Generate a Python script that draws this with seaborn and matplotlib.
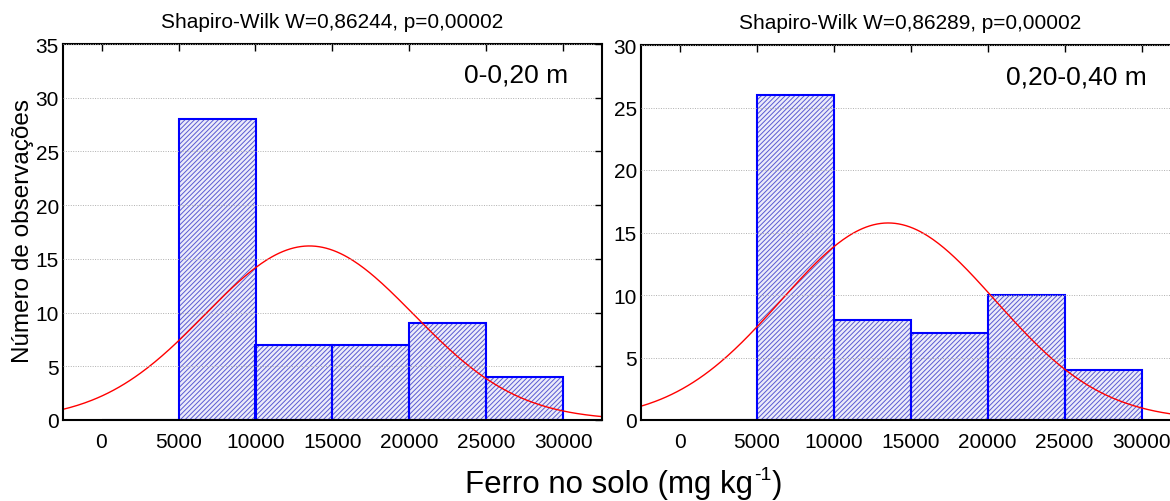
import matplotlib
matplotlib.use("Agg")
import matplotlib.pyplot as plt
from matplotlib import font_manager
import numpy as np
import seaborn as sns

# histogram data (bin edges in mg/kg, counts)
bin_edges = [0, 5000, 10000, 15000, 20000, 25000, 30000]
counts_0_20 = [0, 28, 7, 7, 9, 4]
counts_20_40 = [0, 26, 8, 7, 10, 4]
# fitted normal curves (mean, sd) and the Shapiro-Wilk results
mean_0_20, sd_0_20 = 13500, 6772
mean_20_40, sd_20_40 = 13550, 6960
titles = ["Shapiro-Wilk W=0,86244, p=0,00002", "Shapiro-Wilk W=0,86289, p=0,00002"]
depths = ["0-0,20 m", "0,20-0,40 m"]
ytops = [35, 30]

sns.set_style("white")
names = {f.name for f in font_manager.fontManager.ttflist}
narrow = "Liberation Sans Narrow" if "Liberation Sans Narrow" in names else None
plt.rcParams["font.family"] = ["Liberation Sans", "DejaVu Sans"]
plt.rcParams["hatch.linewidth"] = 0.7
plt.rcParams["text.color"] = "black"

if narrow:
    nfam = [narrow, "DejaVu Sans"]
    tick_fs, title_fs, ylab_fs = 18, 18, 21
else:
    nfam = ["Liberation Sans", "DejaVu Sans"]
    tick_fs, title_fs, ylab_fs = 15, 15, 17.5

fig = plt.figure(figsize=(11.7, 5.02), dpi=100)
W, H = 1170, 502
boxes = [(63, 421, 539, 376), (641, 421, 539, 375)]
depth_pos = [(0.937, 0.92), (0.939, 0.917)]

centers = [(a + b) / 2 for a, b in zip(bin_edges[:-1], bin_edges[1:])]
data = [(counts_0_20, mean_0_20, sd_0_20), (counts_20_40, mean_20_40, sd_20_40)]
xs = np.linspace(-2500, 32500, 300)

for i, (counts, mu, sd) in enumerate(data):
    x0, yb, w, h = boxes[i]
    ax = fig.add_axes([x0 / W, (H - yb) / H, w / W, h / H])

    # hatched fill
    sns.histplot(x=centers, weights=counts, bins=bin_edges, ax=ax,
                 color="#ececfa", alpha=1, linewidth=0)
    for p in ax.patches:
        p.set_hatch("///////")
        p.set_edgecolor("#5a5ad2")
        p.set_linewidth(0)
    # blue outlines
    n0 = len(ax.patches)
    sns.histplot(x=centers, weights=counts, bins=bin_edges, ax=ax, fill=False,
                 linewidth=1.5)
    for p in ax.patches[n0:]:
        p.set_edgecolor("#0000ff")
        p.set_linewidth(1.5)
    ax.patches[n0].set_edgecolor("#000080")

    # normal curve scaled to counts
    n = sum(counts)
    bw = bin_edges[1] - bin_edges[0]
    ys = n * bw / (sd * np.sqrt(2 * np.pi)) * np.exp(-0.5 * ((xs - mu) / sd) ** 2)
    sns.lineplot(x=xs, y=ys, color="red", linewidth=1.0, ax=ax)

    ax.set_xlim(-2500, 32500)
    ax.set_ylim(0, ytops[i])
    ax.set_xticks(range(0, 30001, 5000))
    ax.set_yticks(range(0, ytops[i] + 1, 5))
    ax.set_xticklabels([str(v) for v in range(0, 30001, 5000)], family=nfam, fontsize=tick_fs)
    ax.set_yticklabels([str(v) for v in range(0, ytops[i] + 1, 5)], family=nfam, fontsize=tick_fs)
    ax.tick_params(direction="in", top=True, right=True, length=5, width=1, pad=3,
                   colors="black", labelcolor="black")
    ax.tick_params(axis="x", pad=9)
    ax.yaxis.grid(True, linestyle=(0, (1, 1.5)), color="#b0b0b0", linewidth=0.7)
    ax.set_axisbelow(False)
    for s in ax.spines.values():
        s.set_color("black")
        s.set_linewidth(1.5)
    ax.set_xlabel("")
    ax.set_ylabel("")
    ax.set_title(titles[i], family=nfam, fontsize=title_fs, pad=12, color="black")
    ax.text(depth_pos[i][0], depth_pos[i][1], depths[i], transform=ax.transAxes,
            ha="right", va="center", fontsize=19, color="black")

fig.text(23 / W, (H - 231) / H, "Número de observações", family=nfam, fontsize=ylab_fs,
         rotation=90, ha="center", va="center", color="black")

# x label with a small "-1" superscript (plain hyphen, as in the original)
fig.canvas.draw()
r = fig.canvas.get_renderer()
main = fig.text(0, (H - 485) / H, "Ferro no solo (mg kg", ha="left", va="center",
                fontsize=22.5, color="black")
sup = fig.text(0, (H - 476) / H, "-1", ha="left", va="center", fontsize=14, color="black")
close = fig.text(0, (H - 485) / H, ")", ha="left", va="center", fontsize=22.5, color="black")
w_main = main.get_window_extent(r).width
w_sup = sup.get_window_extent(r).width
w_close = close.get_window_extent(r).width
start = 623 - (w_main + w_sup + w_close) / 2
main.set_x(start / W)
sup.set_x((start + w_main + 1) / W)
close.set_x((start + w_main + w_sup + 1) / W)

fig.savefig("out.png", dpi=100)
